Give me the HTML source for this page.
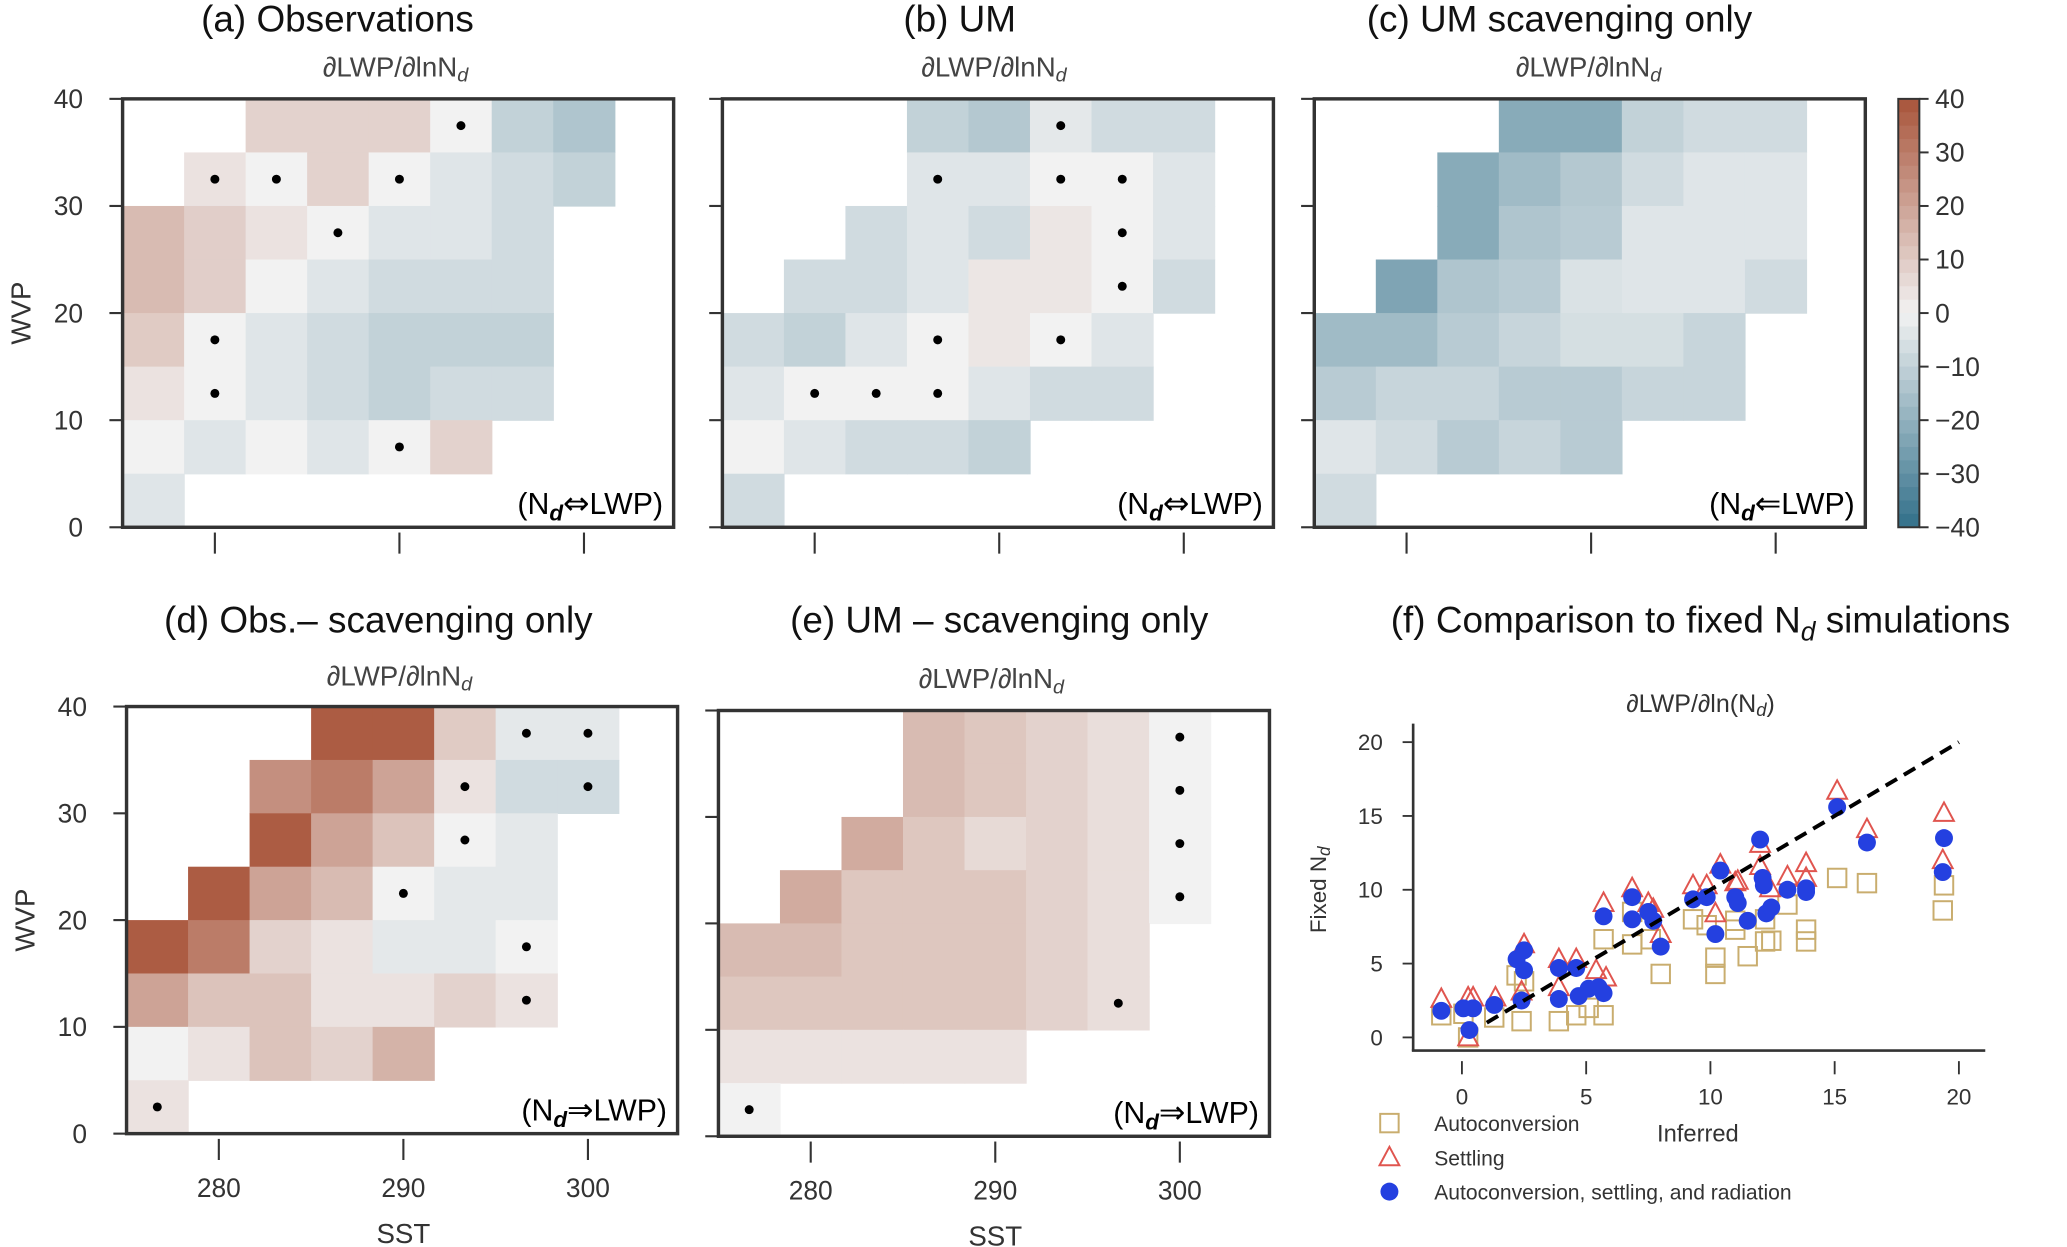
<!DOCTYPE html>
<html><head><meta charset="utf-8"><style>
html,body{margin:0;padding:0;background:#fff;}
svg{display:block;font-family:"Liberation Sans",sans-serif;}
</style></head><body>
<svg id="fig" xmlns="http://www.w3.org/2000/svg" width="2067" height="1247" viewBox="0 0 1568 946" preserveAspectRatio="none">
<g id="layer"></g>
</svg>
<script>
// ---------- heatmap data (rows top->bottom: WVP 35-40 ... 0-5; cols SST bins from 275 K, width 3.33 K) ----------
const sstTicks = [280, 290, 300];
const wvpTicks = [0, 10, 20, 30, 40];
const cbarTicks = [40, 30, 20, 10, 0, -10, -20, -30, -40];
const N = null;
const obsVals = [
 [N,N,8,8,8,0,-10,-14],
 [N,4,0,8,0,-4,-7,-10],
 [14,9,4,0,-4,-4,-7,N],
 [14,9,0,-4,-7,-7,-7,N],
 [10,0,-4,-7,-10,-10,-10,N],
 [4,0,-4,-7,-10,-7,-7,N],
 [0,-4,0,-4,0,8,N,N],
 [-4,N,N,N,N,N,N,N]];
const obsDots = [[5,0],[1,1],[2,1],[4,1],[3,2],[1,4],[1,5],[4,6]];
const umVals = [
 [N,N,N,-10,-13,-3,-7,-7],
 [N,N,N,-4,-4,0,0,-4],
 [N,N,-7,-4,-7,3,0,-4],
 [N,-7,-7,-4,3,3,0,-7],
 [-7,-10,-4,0,3,0,-4,N],
 [-4,0,0,0,-4,-7,-7,N],
 [0,-4,-7,-7,-10,N,N,N],
 [-7,N,N,N,N,N,N,N]];
const umDots = [[5,0],[3,1],[5,1],[6,1],[6,2],[6,3],[3,4],[5,4],[1,5],[2,5],[3,5]];
const scavVals = [
 [N,N,N,-22,-22,-10,-7,-7],
 [N,N,-22,-17,-13,-7,-4,-4],
 [N,N,-22,-14,-12,-4,-4,-4],
 [N,-24,-14,-12,-5,-4,-4,-7],
 [-17,-17,-12,-9,-6,-6,-9,N],
 [-12,-9,-9,-12,-12,-9,-9,N],
 [-4,-7,-12,-9,-12,N,N,N],
 [-7,N,N,N,N,N,N,N]];
const scavDots = [];
const obsDiffVals = [
 [N,N,N,38,38,10,-3,-3],
 [N,N,25,30,20,4,-7,-7],
 [N,N,38,20,12,0,-3,N],
 [N,38,20,14,0,-3,-3,N],
 [38,30,8,4,-3,-3,0,N],
 [20,12,12,4,4,8,4,N],
 [0,4,12,8,16,N,N,N],
 [4,N,N,N,N,N,N,N]];
const obsDiffDots = [[6,0],[7,0],[5,1],[7,1],[5,2],[4,3],[6,4],[6,5],[0,7]];
const umDiffVals = [
 [N,N,N,14,11,8,5,0],
 [N,N,N,14,11,8,5,0],
 [N,N,18,11,6,8,5,0],
 [N,18,11,11,11,8,5,0],
 [14,14,11,11,11,8,5,N],
 [11,11,11,11,11,8,5,N],
 [4,4,4,4,4,N,N,N],
 [0,N,N,N,N,N,N,N]];
const umDiffDots = [[7,0],[7,1],[7,2],[7,3],[6,5],[0,7]];

// ---------- scatter data (panel f): inferred x, fixed y ----------
const blueX = [-0.83,0.06,0.45,0.3,1.3,2.2,2.5,2.5,2.4,3.9,4.6,3.9,4.7,5.1,5.5,5.7,5.7,6.85,6.85,7.5,7.7,8.0,9.3,9.85,10.4,10.2,11.0,11.1,11.5,12.0,12.1,12.15,12.25,12.45,13.1,13.85,13.85,15.1,16.3,19.4,19.35];
const blueY = [1.8,1.97,1.97,0.5,2.2,5.3,5.9,4.55,2.5,4.7,4.7,2.6,2.8,3.3,3.4,3.0,8.2,9.5,8.0,8.5,7.9,6.15,9.35,9.5,11.3,7.0,9.5,9.1,7.9,13.4,10.8,10.3,8.4,8.8,10.0,9.85,10.1,15.6,13.2,13.5,11.2];
const redX = [-0.83,0.25,0.45,1.35,0.25,2.5,2.4,3.9,4.6,3.9,5.4,5.8,5.7,6.85,7.5,7.7,8.0,9.3,9.85,10.2,10.4,11.0,11.1,12.0,12.0,12.4,13.1,13.85,13.85,15.1,16.3,19.4,19.35];
const redY = [2.6,2.7,2.7,2.7,0,6.3,3.1,5.3,5.3,3.4,4.55,4.05,9.1,10.1,9.1,8.7,7.0,10.3,10.3,8.4,11.7,10.5,10.6,13.1,11.6,10.1,10.9,11.8,10.8,16.7,14.1,15.2,12.0];
const tanX = [-0.83,0.06,0.25,1.3,2.4,2.2,2.5,3.9,4.6,5.1,5.7,5.7,6.85,6.85,7.6,8.0,9.3,9.85,10.2,10.2,11.0,11.0,11.5,12.2,12.45,12.2,13.1,13.85,13.85,15.1,16.3,19.4,19.35];
const tanY = [1.5,1.6,0,1.35,1.1,4.2,3.8,1.1,1.5,2.0,1.5,6.65,6.3,8.5,6.65,4.3,8.0,7.6,5.4,4.3,7.3,7.9,5.5,6.5,6.55,8.0,9.0,7.3,6.5,10.8,10.45,10.3,8.6];
const fTicks = [0, 5, 10, 15, 20];

const NS = "http://www.w3.org/2000/svg";
const root = document.getElementById('layer');
function el(tag, attrs, parent, text){
  const e = document.createElementNS(NS, tag);
  for (const k in attrs) e.setAttribute(k, attrs[k]);
  if (text !== undefined) e.textContent = text;
  (parent || root).appendChild(e);
  return e;
}
const POS=[168,84,58], NEG=[50,112,138], MID=[242,242,242];
function color(v){
  const f=Math.max(-1,Math.min(1,v/40));
  const e=f>=0?POS:NEG, a=Math.abs(f);
  const c=MID.map((m,i)=>Math.round(m+(e[i]-m)*a));
  return `rgb(${c[0]},${c[1]},${c[2]})`;
}

function heatPanel(name, L, T, B, vals, dots, annot, showY, showXLabels){
  const W = 418;
  const sx = s => L + (s - 275) * 14;
  const sy = w => B - (w / 40) * (B - T);
  const g = el('g', {}, root);
  
  
  vals.forEach((row, r) => row.forEach((v, c) => {
    if (v === null) return;
    const s0 = 275 + c * 10 / 3, w0 = 35 - 5 * r;
    const rc = el('rect', {x: sx(s0), y: sy(w0 + 5), width: sx(s0 + 10/3) - sx(s0) + 0.5, height: sy(w0) - sy(w0 + 5) + 0.5, fill: color(v)}, g);
    
    
  }));
  dots.forEach(d => {
    const s = 275 + (d[0] + 0.5) * 10 / 3, w = 35 - 5 * d[1] + 2.5;
    const dt = el('circle', {cx: sx(s), cy: sy(w), r: 3.4, fill: '#000'}, g);
    
    
  });
  const fr = el('rect', {x: L, y: T, width: W, height: B - T, fill: 'none', stroke: '#333', 'stroke-width': 2.6}, g);
  
  
  wvpTicks.forEach(t => {
    el('line', {x1: L - 10, x2: L, y1: sy(t), y2: sy(t), stroke: '#333', 'stroke-width': 1.6}, g);
    if (showY) {
      const tl = el('text', {x: L - 30, y: sy(t) + 7, 'text-anchor': 'end', 'font-size': 20, fill: '#333'}, g, t);
      
      
    }
  });
  sstTicks.forEach(t => {
    el('line', {x1: sx(t), x2: sx(t), y1: B + 4, y2: B + 20, stroke: '#333', 'stroke-width': 1.6}, g);
    if (showXLabels) {
      const tl = el('text', {x: sx(t), y: B + 48, 'text-anchor': 'middle', 'font-size': 20, fill: '#333'}, g, t);
      
      
    }
  });
  if (showY) {
    const yl = el('text', {x: 0, y: 0, transform: `translate(${L - 70},${(T + B) / 2}) rotate(-90)`, 'text-anchor': 'middle', 'font-size': 21, fill: '#333'}, g, 'WVP');
    
    
  }
  if (showXLabels) {
    const xl = el('text', {x: sx(290), y: B + 83, 'text-anchor': 'middle', 'font-size': 21, fill: '#333'}, g, 'SST');
    
    
  }
  const an = el('text', {x: L + W - 8, y: B - 10, 'text-anchor': 'end', 'font-size': 23, fill: '#000'}, g);
  
  
  el('tspan', {}, an, '(N');
  el('tspan', {'font-size': 17, 'font-style': 'italic', 'font-weight': 'bold', dy: 5}, an, 'd');
  el('tspan', {dy: -5, 'font-family': '"DejaVu Sans", sans-serif', 'font-size': 24}, an, annot);
  el('tspan', {}, an, 'LWP)');
}

function title(name, x, y, main, size){
  const t = el('text', {x: x, y: y, 'text-anchor': 'middle', 'font-size': size, fill: '#111'}, root, main);
  
  
  return t;
}
function subtitle(name, x, y, txt){
  const t = el('text', {x: x, y: y, 'text-anchor': 'middle', 'font-size': 21, fill: '#444'}, root);
  
  
  el('tspan', {}, t, txt);
  el('tspan', {'font-size': 15, 'font-style': 'italic', dy: 4}, t, 'd');
  return t;
}

title('title-a', 256, 24, '(a) Observations', 28);
subtitle('subtitle-a', 300, 58, '∂LWP/∂lnN');
title('title-b', 728, 24, '(b) UM', 28);
subtitle('subtitle-b', 754, 58, '∂LWP/∂lnN');
title('title-c', 1183, 24, '(c) UM scavenging only', 28);
subtitle('subtitle-c', 1205, 58, '∂LWP/∂lnN');
title('title-d', 287, 480, '(d) Obs.– scavenging only', 28);
subtitle('subtitle-d', 303, 520, '∂LWP/∂lnN');
title('title-e', 758, 480, '(e) UM – scavenging only', 28);
subtitle('subtitle-e', 752, 522, '∂LWP/∂lnN');
const tf = title('title-f', 1290, 480, '(f) Comparison to fixed N', 28);
el('tspan', {'font-size': 20, 'font-style': 'italic', dy: 6}, tf, 'd');
el('tspan', {dy: -6}, tf, ' simulations');

heatPanel('panel-a-observations', 93, 75, 400, obsVals, obsDots, '⇔', true, false);
heatPanel('panel-b-um', 548, 75, 400, umVals, umDots, '⇔', false, false);
heatPanel('panel-c-um-scavenging', 997, 75, 400, scavVals, scavDots, '⇐', false, false);
heatPanel('panel-d-obs-minus-scav', 96, 536, 860, obsDiffVals, obsDiffDots, '⇒', true, true);
heatPanel('panel-e-um-minus-scav', 545, 539, 862, umDiffVals, umDiffDots, '⇒', false, true);

// colorbar
(function(){
  const X = 1440, T = 75, B = 400, n = 32;
  const g = el('g', {}, root);
  
  
  for (let i = 0; i < n; i++) {
    const v = 40 - (i + 0.5) * 80 / n;
    el('rect', {x: X, y: T + i * (B - T) / n, width: 16, height: (B - T) / n + 0.5, fill: color(v)}, g);
  }
  el('rect', {x: X, y: T, width: 16, height: B - T, fill: 'none', stroke: '#333', 'stroke-width': 1.5}, g);
  cbarTicks.forEach(t => {
    const y = T + (40 - t) / 80 * (B - T);
    el('line', {x1: X + 16, x2: X + 23, y1: y, y2: y, stroke: '#333', 'stroke-width': 1.5}, g);
    const tl = el('text', {x: X + 28, y: y + 7, 'font-size': 20, fill: '#333'}, g, t < 0 ? '−' + (-t) : t);
    
    
  });
})();

// panel f scatter
(function(){
  const fx = v => 1109 + v * 18.85;
  const fy = v => 787 - v * 11.2;
  const g = el('g', {}, root);
  
  
  const st = el('text', {x: 1290, y: 540, 'text-anchor': 'middle', 'font-size': 19, fill: '#333'}, g);
  
  
  el('tspan', {}, st, '∂LWP/∂ln(N');
  el('tspan', {'font-size': 14, 'font-style': 'italic', dy: 3}, st, 'd');
  el('tspan', {dy: -3}, st, ')');
  el('line', {x1: 1072, x2: 1072, y1: 549, y2: 797, stroke: '#333', 'stroke-width': 2}, g);
  el('line', {x1: 1071, x2: 1506, y1: 797, y2: 797, stroke: '#333', 'stroke-width': 2}, g);
  fTicks.forEach(t => {
    el('line', {x1: 1064, x2: 1072, y1: fy(t), y2: fy(t), stroke: '#333', 'stroke-width': 1.4}, g);
    const yl = el('text', {x: 1049, y: fy(t) + 6, 'text-anchor': 'end', 'font-size': 17, fill: '#333'}, g, t);
    
    
    el('line', {x1: fx(t), x2: fx(t), y1: 805, y2: 815, stroke: '#333', 'stroke-width': 1.4}, g);
    const xl = el('text', {x: fx(t), y: 838, 'text-anchor': 'middle', 'font-size': 17, fill: '#333'}, g, t);
    
    
  });
  const yt = el('text', {x: 0, y: 0, transform: 'translate(1006,675) rotate(-90)', 'text-anchor': 'middle', 'font-size': 17, fill: '#333'}, g);
  
  
  el('tspan', {}, yt, 'Fixed N');
  el('tspan', {'font-size': 13, 'font-style': 'italic', dy: 3}, yt, 'd');
  const xt = el('text', {x: 1288, y: 866, 'text-anchor': 'middle', 'font-size': 18, fill: '#333'}, g, 'Inferred');
  
  
  tanX.forEach((x, i) => {
    const m = el('rect', {x: fx(x) - 7, y: fy(tanY[i]) - 7, width: 14, height: 14, fill: 'none', stroke: '#c9ad6e', 'stroke-width': 1.5}, g);
    
    
  });
  redX.forEach((x, i) => {
    const cx = fx(x), cy = fy(redY[i]);
    const m = el('polygon', {points: `${cx},${cy - 8} ${cx - 7.5},${cy + 6} ${cx + 7.5},${cy + 6}`, fill: 'none', stroke: '#e0554f', 'stroke-width': 1.5}, g);
    
    
  });
  blueX.forEach((x, i) => {
    const m = el('circle', {cx: fx(x), cy: fy(blueY[i]), r: 6.8, fill: '#2440e0'}, g);
    
    
  });
  const dl = el('line', {x1: fx(1), y1: fy(1), x2: fx(20), y2: fy(20), stroke: '#000', 'stroke-width': 3, 'stroke-dasharray': '10,6'}, g);
  
  
  // legend
  const lg = el('g', {}, g);
  
  
  el('rect', {x: 1047, y: 845, width: 14, height: 14, fill: 'none', stroke: '#c9ad6e', 'stroke-width': 1.5}, lg);
  const l1 = el('text', {x: 1088, y: 858, 'font-size': 16, fill: '#333'}, lg, 'Autoconversion');
  
  
  el('polygon', {points: '1054,870 1046.5,884 1061.5,884', fill: 'none', stroke: '#e0554f', 'stroke-width': 1.5}, lg);
  const l2 = el('text', {x: 1088, y: 884, 'font-size': 16, fill: '#333'}, lg, 'Settling');
  
  
  el('circle', {cx: 1054, cy: 904, r: 6.8, fill: '#2440e0'}, lg);
  const l3 = el('text', {x: 1088, y: 910, 'font-size': 16, fill: '#333'}, lg, 'Autoconversion, settling, and radiation');
  
  
})();
</script>
</body></html>
